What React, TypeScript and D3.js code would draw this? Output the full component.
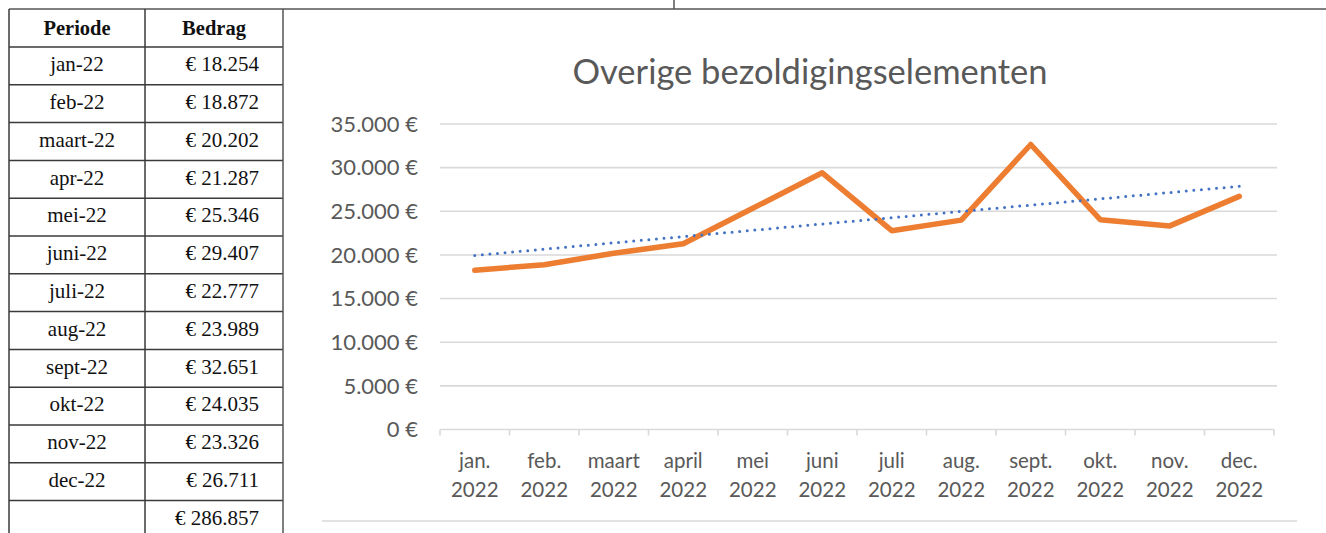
import React from "react";
import * as d3 from "d3";

const tablePeriods = ["jan-22", "feb-22", "maart-22", "apr-22", "mei-22", "juni-22", "juli-22", "aug-22", "sept-22", "okt-22", "nov-22", "dec-22"];
const tableAmounts = ["€ 18.254", "€ 18.872", "€ 20.202", "€ 21.287", "€ 25.346", "€ 29.407", "€ 22.777", "€ 23.989", "€ 32.651", "€ 24.035", "€ 23.326", "€ 26.711"];
const tableTotal = "€ 286.857";

const months = ["jan.", "feb.", "maart", "april", "mei", "juni", "juli", "aug.", "sept.", "okt.", "nov.", "dec."];
const years = ["2022", "2022", "2022", "2022", "2022", "2022", "2022", "2022", "2022", "2022", "2022", "2022"];
const values = [18254, 18872, 20202, 21287, 25346, 29407, 22777, 23989, 32651, 24035, 23326, 26711];
const yTicks = [0, 5000, 10000, 15000, 20000, 25000, 30000, 35000];

const W = 1326;
const H = 533;

export default function App() {
  // table geometry
  const tLeft = 9, tMid = 145, tRight = 283, tTop = 9, headerBottom = 47, rowH = 37.8;
  const rowsCount = tablePeriods.length + 1;
  const borderColor = "#3a3a3a";
  const serif = "'Liberation Serif', 'Times New Roman', serif";
  const sans = "Lato, 'Open Sans', sans-serif";

  // chart geometry
  const plotLeft = 440, plotRight = 1274, plotTop = 124, plotBottom = 429.5;
  const x = d3.scaleBand<string>().domain(months).range([plotLeft, plotRight]).padding(0);
  const y = d3.scaleLinear().domain([0, 35000]).range([plotBottom, plotTop]);
  const cx = (i: number) => (x(months[i]) as number) + x.bandwidth() / 2;

  const line = d3.line<number>().x((_, i) => cx(i)).y((v) => y(v));

  // linear trendline (least squares)
  const n = values.length;
  const idx = d3.range(1, n + 1);
  const mx = d3.mean(idx) as number;
  const my = d3.mean(values) as number;
  const slope = d3.sum(idx.map((t, i) => (t - mx) * (values[i] - my))) / d3.sum(idx.map((t) => (t - mx) ** 2));
  const intercept = my - slope * mx;
  const trend = idx.map((t) => intercept + slope * t);

  const fmt = (v: number) => (v === 0 ? "0 €" : d3.format(",")(v).replace(/,/g, ".") + " €");

  return (
    <svg width={W} height={H} style={{ position: "absolute", left: 0, top: 0, background: "#fff" }}>
      {/* outer frame lines */}
      <line x1={tLeft} x2={W} y1={tTop} y2={tTop} stroke="#555" strokeWidth={1.5} />
      <line x1={674} x2={674} y1={0} y2={tTop} stroke="#555" strokeWidth={1.5} />

      {/* table */}
      <g>
        {d3.range(rowsCount + 1).map((r) => {
          const yy = r === 0 ? headerBottom : headerBottom + r * rowH;
          return <line key={"h" + r} x1={tLeft} x2={tRight} y1={yy} y2={yy} stroke={borderColor} strokeWidth={1.5} />;
        })}
        <line x1={tLeft} x2={tLeft} y1={tTop} y2={H} stroke={borderColor} strokeWidth={1.5} />
        <line x1={tMid} x2={tMid} y1={tTop} y2={H} stroke={borderColor} strokeWidth={1.5} />
        <line x1={tRight} x2={tRight} y1={tTop} y2={H} stroke="#555" strokeWidth={1.5} />
        <text x={(tLeft + tMid) / 2} y={(tTop + headerBottom) / 2} dy="0.33em" textAnchor="middle" fontFamily={serif} fontWeight="bold" fontSize={20.5} fill="#111">Periode</text>
        <text x={(tMid + tRight) / 2} y={(tTop + headerBottom) / 2} dy="0.33em" textAnchor="middle" fontFamily={serif} fontWeight="bold" fontSize={20.5} fill="#111">Bedrag</text>
        {tablePeriods.map((p, i) => (
          <text key={"p" + i} x={(tLeft + tMid) / 2} y={headerBottom + i * rowH + rowH / 2} dy="0.25em" textAnchor="middle" fontFamily={serif} fontSize={21} fill="#111">{p}</text>
        ))}
        {tableAmounts.map((a, i) => (
          <text key={"a" + i} x={259} y={headerBottom + i * rowH + rowH / 2} dy="0.25em" textAnchor="end" fontFamily={serif} fontSize={21} fill="#111">{a}</text>
        ))}
        <text x={259} y={headerBottom + tablePeriods.length * rowH + rowH / 2} dy="0.25em" textAnchor="end" fontFamily={serif} fontSize={21} fill="#111">{tableTotal}</text>
      </g>

      {/* chart */}
      <text x={810} y={72} dy="0.35em" textAnchor="middle" fontFamily={sans} fontSize={34.5} fill="#595959">Overige bezoldigingselementen</text>

      {yTicks.map((t) => (
        <g key={"g" + t}>
          <line x1={plotLeft} x2={t === 0 ? plotRight : 1277} y1={y(t)} y2={y(t)} stroke="#d9d9d9" strokeWidth={1.6} />
          <text x={418} y={y(t)} dy="0.35em" textAnchor="end" fontFamily={sans} fontSize={22} fill="#595959">{fmt(t)}</text>
        </g>
      ))}
      {d3.range(months.length + 1).map((i) => {
        const xx = plotLeft + i * x.bandwidth();
        return <line key={"t" + i} x1={xx} x2={xx} y1={plotBottom} y2={plotBottom + 6} stroke="#d9d9d9" strokeWidth={1.6} />;
      })}
      {months.map((m, i) => (
        <g key={"m" + i}>
          <text x={cx(i)} y={461} dy="0.35em" textAnchor="middle" fontFamily={sans} fontSize={20.5} fill="#595959">{m}</text>
          <text x={cx(i)} y={490} dy="0.35em" textAnchor="middle" fontFamily={sans} fontSize={20.5} fill="#595959">{years[i]}</text>
        </g>
      ))}
      <line x1={322} x2={1297} y1={521} y2={521} stroke="#d9d9d9" strokeWidth={1.6} />

      <path d={line(values) as string} fill="none" stroke="#ED7D31" strokeWidth={5.5} strokeLinejoin="round" strokeLinecap="round" />
      <path d={line(trend) as string} fill="none" stroke="#4472C4" strokeWidth={3} strokeDasharray="0 7.6" strokeLinecap="round" />
    </svg>
  );
}
